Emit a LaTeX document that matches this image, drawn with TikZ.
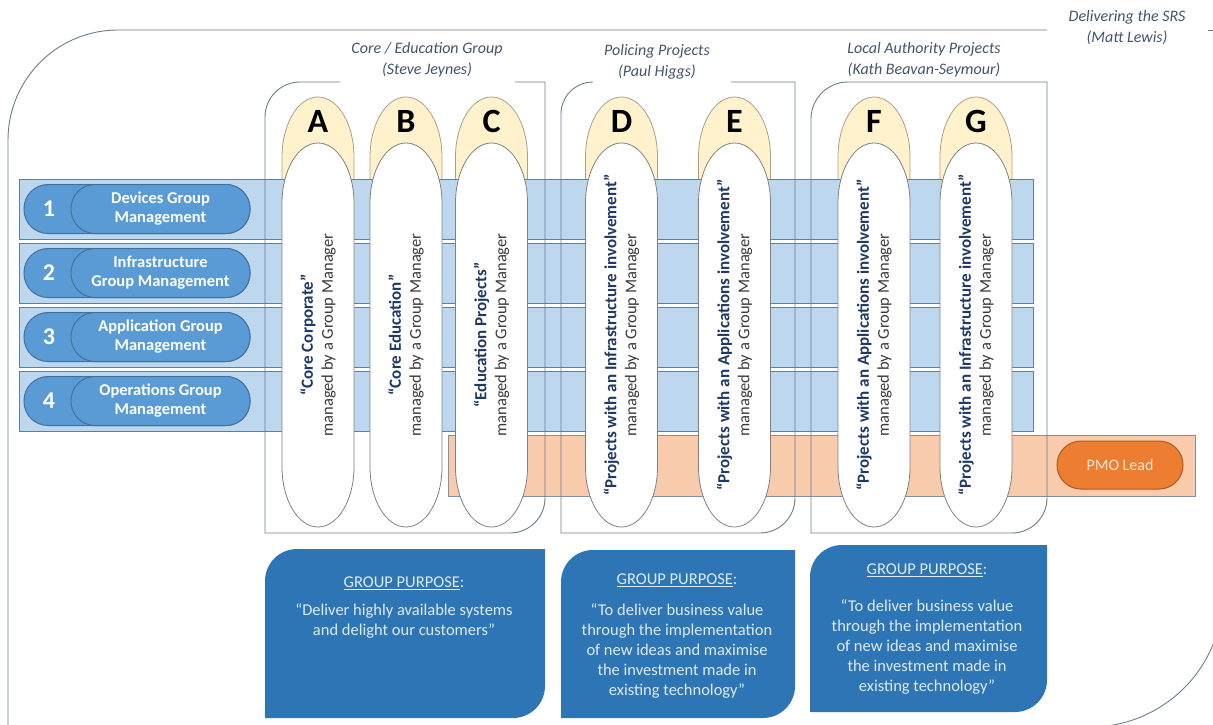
\documentclass[tikz,border=0pt]{standalone}
\usepackage{fontspec}
\setmainfont{Carlito}
\usepackage{tikz}
\usetikzlibrary{positioning}
\definecolor{bandfill}{HTML}{BDD7EE}
\definecolor{bandedge}{HTML}{5F7F9F}
\definecolor{pillfill}{HTML}{5B9BD5}
\definecolor{pilledge}{HTML}{41719C}
\definecolor{pmoband}{HTML}{F8CBAD}
\definecolor{pmobandedge}{HTML}{8090A6}
\definecolor{pmofill}{HTML}{ED7D31}
\definecolor{pmoedge}{HTML}{AE5A21}
\definecolor{pmoword}{HTML}{FBE5D6}
\definecolor{capfill}{HTML}{FFF2CC}
\definecolor{capedge}{HTML}{A8A08A}
\definecolor{tubeedge}{HTML}{808080}
\definecolor{boxedge}{HTML}{6B7C8F}
\definecolor{purpfill}{HTML}{2E75B6}
\definecolor{purpword}{HTML}{DEEBF7}
\definecolor{titleword}{HTML}{44546A}
\definecolor{navyword}{HTML}{1F3864}
\definecolor{greyword}{HTML}{3A3A3A}

\begin{document}
\begin{tikzpicture}[
    x=1pt, y=-1pt,
    band/.style={draw=bandedge, line width=0.8pt, fill=bandfill, inner sep=0pt},
    pmoband/.style={draw=pmobandedge, line width=0.8pt, fill=pmoband, inner sep=0pt},
    rowpill/.style={draw=pilledge, line width=1pt, fill=pillfill, rounded corners=24pt,
                    minimum height=49pt, inner sep=0pt},
    rowtext/.style={text=white, align=center, font=\fontsize{16.5}{19}\selectfont\bfseries},
    rownum/.style={text=white, font=\fontsize{24}{28}\selectfont\bfseries},
    pmopill/.style={draw=pmoedge, line width=1pt, fill=pmofill, rounded corners=24pt,
                    minimum width=126pt, minimum height=48pt, text=pmoword,
                    font=\fontsize{16}{19}\selectfont},
    projcap/.style={draw=capedge, line width=0.8pt, fill=capfill},
    letter/.style={font=\fontsize{34}{40}\selectfont\bfseries},
    tube/.style={draw=tubeedge, line width=0.8pt, fill=white},
    tubetext/.style={rotate=90, align=center, text=greyword, font=\fontsize{16.5}{20}\selectfont},
    grpline/.style={draw=boxedge, line width=0.9pt},
    grptitle/.style={align=center, text=titleword, font=\fontsize{16}{21}\selectfont\itshape},
    purpbox/.style={fill=purpfill},
    purphead/.style={text=purpword, font=\fontsize{16.5}{20}\selectfont, inner sep=0pt},
    purpquote/.style={text=purpword, align=center, font=\fontsize{16.5}{20}\selectfont,
                      anchor=north, inner sep=0pt}
]
\useasboundingbox (0,0) rectangle (1213,724);
\clip (0,0) rectangle (1213,724);

% Outer frame
\draw[grpline] (8,740) -- (8,140) arc[start angle=180, end angle=270, radius=110] -- (1047,30);
\draw[grpline] (1208,30) -- (1230,30);
\draw[grpline] (1223,0) -- (1223,594) arc[start angle=0, end angle=90, radius=133] -- (900,727);
\node[grptitle] (srs) at (1127,28) {Delivering the SRS\\(Matt Lewis)};

% Group titles
\node[grptitle] (coretitle) at (427,60) {Core / Education Group\\(Steve Jeynes)};
\node[grptitle] (poltitle) at (657,62) {Policing Projects\\(Paul Higgs)};
\node[grptitle] (latitle) at (924,60) {Local Authority Projects\\(Kath Beavan-Seymour)};

% Yellow caps
\draw[projcap] (282,200) -- (282,157) arc[start angle=180, end angle=360, x radius=36, y radius=60] -- (354,200);
\draw[projcap] (370,200) -- (370,157) arc[start angle=180, end angle=360, x radius=36, y radius=60] -- (442,200);
\draw[projcap] (455.5,200) -- (455.5,157) arc[start angle=180, end angle=360, x radius=36, y radius=60] -- (527.5,200);
\draw[projcap] (585.5,200) -- (585.5,157) arc[start angle=180, end angle=360, x radius=36, y radius=60] -- (657.5,200);
\draw[projcap] (698.5,200) -- (698.5,157) arc[start angle=180, end angle=360, x radius=36, y radius=60] -- (770.5,200);
\draw[projcap] (838,200) -- (838,157) arc[start angle=180, end angle=360, x radius=36, y radius=60] -- (910,200);
\draw[projcap] (940,200) -- (940,157) arc[start angle=180, end angle=360, x radius=36, y radius=60] -- (1012,200);

\node[letter] (capA) at (318,121) {A};
\node[letter] (capB) at (406,121) {B};
\node[letter] (capC) at (491.5,121) {C};
\node[letter] (capD) at (621.5,121) {D};
\node[letter] (capE) at (734.5,121) {E};
\node[letter] (capF) at (874,121) {F};
\node[letter] (capG) at (976,121) {G};

% Management rows
\node[band, minimum width=1014pt, minimum height=60pt] (band1) at (526,209) {};
\node[band, minimum width=1014pt, minimum height=60pt] (band2) at (526,273) {};
\node[band, minimum width=1014pt, minimum height=60pt] (band3) at (526,337) {};
\node[band, minimum width=1014pt, minimum height=60pt] (band4) at (526,401) {};

\node[rowpill, minimum width=226pt] (pill1) at (137,209) {};
\node[rowpill, minimum width=179pt, rowtext] (mgmt1) at (160.5,209) {Devices Group\\Management};
\node[rownum] (num1) at (49,209) {1};
\node[rowpill, minimum width=226pt] (pill2) at (137,273) {};
\node[rowpill, minimum width=179pt, rowtext] (mgmt2) at (160.5,273) {Infrastructure\\Group Management};
\node[rownum] (num2) at (49,273) {2};
\node[rowpill, minimum width=226pt] (pill3) at (137,337) {};
\node[rowpill, minimum width=179pt, rowtext] (mgmt3) at (160.5,337) {Application Group\\Management};
\node[rownum] (num3) at (49,337) {3};
\node[rowpill, minimum width=226pt] (pill4) at (137,401) {};
\node[rowpill, minimum width=179pt, rowtext] (mgmt4) at (160.5,401) {Operations Group\\Management};
\node[rownum] (num4) at (49,401) {4};

% PMO row
\node[pmoband, minimum width=747pt, minimum height=61pt] (pmorow) at (821.5,465.5) {};
\node[pmopill] (pmo) at (1120,465) {PMO Lead};

% Project tubes
\draw[tube] (282,203) arc[start angle=180, end angle=360, x radius=36, y radius=60] -- (354,467) arc[start angle=0, end angle=180, x radius=36, y radius=60] -- cycle;
\draw[tube] (370,203) arc[start angle=180, end angle=360, x radius=36, y radius=60] -- (442,467) arc[start angle=0, end angle=180, x radius=36, y radius=60] -- cycle;
\draw[tube] (455.5,203) arc[start angle=180, end angle=360, x radius=36, y radius=60] -- (527.5,467) arc[start angle=0, end angle=180, x radius=36, y radius=60] -- cycle;
\draw[tube] (585.5,203) arc[start angle=180, end angle=360, x radius=36, y radius=60] -- (657.5,467) arc[start angle=0, end angle=180, x radius=36, y radius=60] -- cycle;
\draw[tube] (698.5,203) arc[start angle=180, end angle=360, x radius=36, y radius=60] -- (770.5,467) arc[start angle=0, end angle=180, x radius=36, y radius=60] -- cycle;
\draw[tube] (838,203) arc[start angle=180, end angle=360, x radius=36, y radius=60] -- (910,467) arc[start angle=0, end angle=180, x radius=36, y radius=60] -- cycle;
\draw[tube] (940,203) arc[start angle=180, end angle=360, x radius=36, y radius=60] -- (1012,467) arc[start angle=0, end angle=180, x radius=36, y radius=60] -- cycle;

\node[tubetext] (tubeA) at (318,335) {{\fontsize{17}{20}\selectfont\bfseries\color{navyword}“Core Corporate”}\\managed by a Group Manager};
\node[tubetext] (tubeB) at (406,335) {{\fontsize{17}{20}\selectfont\bfseries\color{navyword}“Core Education”}\\managed by a Group Manager};
\node[tubetext] (tubeC) at (491.5,335) {{\fontsize{17}{20}\selectfont\bfseries\color{navyword}“Education Projects”}\\managed by a Group Manager};
\node[tubetext] (tubeD) at (621.5,335) {{\fontsize{17}{20}\selectfont\bfseries\color{navyword}“Projects with an Infrastructure involvement”}\\managed by a Group Manager};
\node[tubetext] (tubeE) at (734.5,335) {{\fontsize{17}{20}\selectfont\bfseries\color{navyword}“Projects with an Applications involvement”}\\managed by a Group Manager};
\node[tubetext] (tubeF) at (874,335) {{\fontsize{17}{20}\selectfont\bfseries\color{navyword}“Projects with an Applications involvement”}\\managed by a Group Manager};
\node[tubetext] (tubeG) at (976,335) {{\fontsize{17}{20}\selectfont\bfseries\color{navyword}“Projects with an Infrastructure involvement”}\\managed by a Group Manager};

% Group boxes
\draw[grpline] (340,82) -- (300,82) arc[start angle=270, end angle=180, radius=35] -- (265,533) -- (510,533) arc[start angle=90, end angle=0, radius=35] -- (545,82) -- (515,82);
\draw[grpline] (593,82) arc[start angle=270, end angle=180, radius=32] -- (561,533) -- (760,533) arc[start angle=90, end angle=0, radius=35] -- (795,82) -- (731,82);
\draw[grpline] (848,82) arc[start angle=270, end angle=180, radius=37] -- (811,533) -- (1012,533) arc[start angle=90, end angle=0, radius=35] -- (1047,82) -- cycle;

% Group purposes
\fill[purpbox] (265,718) -- (265,581) arc[start angle=180, end angle=270, radius=32] -- (545,549) -- (545,686) arc[start angle=0, end angle=90, radius=32] -- cycle;
\fill[purpbox] (561,718) -- (561,582) arc[start angle=180, end angle=270, radius=32] -- (795,550) -- (795,686) arc[start angle=0, end angle=90, radius=32] -- cycle;
\fill[purpbox] (810,712) -- (810,577) arc[start angle=180, end angle=270, radius=32] -- (1047,545) -- (1047,680) arc[start angle=0, end angle=90, radius=32] -- cycle;

\node[purphead] (headcore) at (404,583) {\underline{GROUP PURPOSE}:};
\node[purpquote] (quotecore) at (404,603) {“Deliver highly available systems\\and delight our customers”};
\node[purphead] (headpol) at (677,580) {\underline{GROUP PURPOSE}:};
\node[purpquote] (quotepol) at (677,603) {“To deliver business value\\through the implementation\\of new ideas and maximise\\the investment made in\\existing technology”};
\node[purphead] (headla) at (927,570) {\underline{GROUP PURPOSE}:};
\node[purpquote] (quotela) at (927,599) {“To deliver business value\\through the implementation\\of new ideas and maximise\\the investment made in\\existing technology”};

\end{tikzpicture}
\end{document}
